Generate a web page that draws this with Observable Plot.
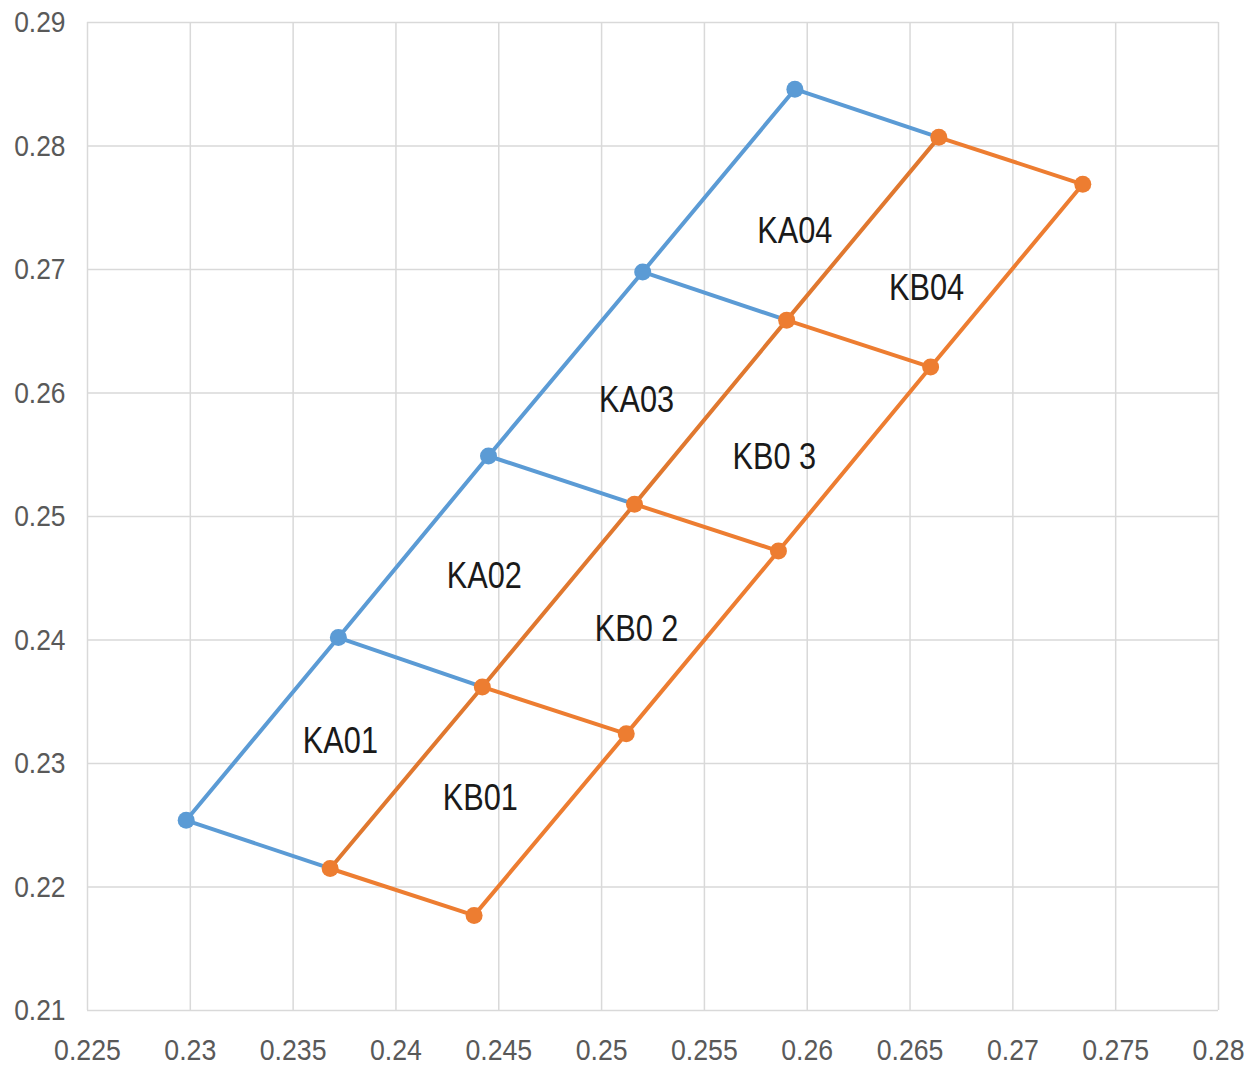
<!DOCTYPE html>
<html>
<head>
<meta charset="utf-8">
<script src="https://cdn.jsdelivr.net/npm/d3@7"></script>
<script src="https://cdn.jsdelivr.net/npm/@observablehq/plot@0.6"></script>
<style>
  html, body { margin: 0; padding: 0; background: #fff; }
  #chart { width: 1255px; height: 1066px; }
</style>
</head>
<body>
<div id="chart"></div>
<script>
// Blue series (KA left edge)
const kaX = [0.2298, 0.2372, 0.2445, 0.2520, 0.2594];
const kaY = [0.2254, 0.2402, 0.2549, 0.2698, 0.2846];
// Orange series, shared edge between KA and KB cells
const kbInnerX = [0.2368, 0.2442, 0.2516, 0.2590, 0.2664];
const kbInnerY = [0.2215, 0.2362, 0.2510, 0.2659, 0.2807];
// Orange series, right edge
const kbOuterX = [0.2438, 0.2512, 0.2586, 0.2660, 0.2734];
const kbOuterY = [0.2177, 0.2324, 0.2472, 0.2621, 0.2769];

// Cell labels
const labelText = ["KA01", "KA02", "KA03", "KA04", "KB01", "KB0 2", "KB0 3", "KB04"];
const labelX = [0.2373, 0.2443, 0.2517, 0.2594, 0.2441, 0.2517, 0.2584, 0.2658];
const labelY = [0.2318, 0.2452, 0.2594, 0.2731, 0.2272, 0.2409, 0.2548, 0.2685];

// Axis ticks
const xTicks = [0.225, 0.23, 0.235, 0.24, 0.245, 0.25, 0.255, 0.26, 0.265, 0.27, 0.275, 0.28];
const xTickLabels = ["0.225", "0.23", "0.235", "0.24", "0.245", "0.25", "0.255", "0.26", "0.265", "0.27", "0.275", "0.28"];
const yTicks = [0.21, 0.22, 0.23, 0.24, 0.25, 0.26, 0.27, 0.28, 0.29];
const yTickLabels = ["0.21", "0.22", "0.23", "0.24", "0.25", "0.26", "0.27", "0.28", "0.29"];

const BLUE = "#5B9BD5";
const ORANGE = "#ED7D31";
const FONT = "'Liberation Sans', Arial, sans-serif";

const pts = (xs, ys) => xs.map((x, i) => ({x, y: ys[i]}));
const kaPts = pts(kaX, kaY);
const innerPts = pts(kbInnerX, kbInnerY);
const outerPts = pts(kbOuterX, kbOuterY);

// cross segments
const blueSegs = kaPts.map((p, i) => ({x1: p.x, y1: p.y, x2: innerPts[i].x, y2: innerPts[i].y}));
const orangeSegs = innerPts.map((p, i) => ({x1: p.x, y1: p.y, x2: outerPts[i].x, y2: outerPts[i].y}));
const labels = labelText.map((t, i) => ({t, x: labelX[i], y: labelY[i]}));

const chart = Plot.plot({
  width: 1255,
  height: 1066,
  marginLeft: 87,
  marginRight: 37,
  marginTop: 22,
  marginBottom: 56,
  style: {fontFamily: FONT, background: "#fff"},
  x: {domain: [0.225, 0.28]},
  y: {domain: [0.21, 0.29]},
  marks: [
    Plot.gridX(xTicks, {stroke: "#d9d9d9", strokeOpacity: 1, strokeWidth: 1.5}),
    Plot.gridY(yTicks, {stroke: "#d9d9d9", strokeOpacity: 1, strokeWidth: 1.5}),
    Plot.axisX(xTicks, {tickSize: 0, tickPadding: 28, fontSize: 30, fill: "#595959",
      tickFormat: (d) => xTickLabels[xTicks.indexOf(d)], label: null, className: "tick-x"}),
    Plot.axisY(yTicks, {tickSize: 0, tickPadding: 22, fontSize: 30, fill: "#595959",
      tickFormat: (d) => yTickLabels[yTicks.indexOf(d)], label: null, className: "tick-y"}),
    // blue
    Plot.line(kaPts, {x: "x", y: "y", stroke: BLUE, strokeWidth: 4}),
    Plot.link(blueSegs, {x1: "x1", y1: "y1", x2: "x2", y2: "y2", stroke: BLUE, strokeWidth: 4}),
    Plot.dot(kaPts, {x: "x", y: "y", r: 8.5, fill: BLUE}),
    // orange
    Plot.line(innerPts, {x: "x", y: "y", stroke: "#E0782F", strokeWidth: 4}),
    Plot.line(outerPts, {x: "x", y: "y", stroke: ORANGE, strokeWidth: 4}),
    Plot.link(orangeSegs, {x1: "x1", y1: "y1", x2: "x2", y2: "y2", stroke: ORANGE, strokeWidth: 4}),
    Plot.dot(innerPts, {x: "x", y: "y", r: 8.5, fill: ORANGE}),
    Plot.dot(outerPts, {x: "x", y: "y", r: 8.5, fill: ORANGE}),
    // labels
    Plot.text(labels, {x: "x", y: "y", text: "t", fontSize: 37, fill: "#1a1a1a", className: "cell-label"})
  ]
});
document.getElementById("chart").appendChild(chart);

// Condense the text horizontally, like the narrow font of the reference
function condense(selector, s) {
  chart.querySelectorAll(selector + " text").forEach(t => {
    const b = t.getBBox();
    const anchor = getComputedStyle(t).textAnchor;
    const ax = anchor === "end" ? b.x + b.width : anchor === "middle" ? b.x + b.width / 2 : b.x;
    const prev = t.getAttribute("transform") || "";
    t.setAttribute("transform", `${prev} translate(${ax},0) scale(${s},1) translate(${-ax},0)`.trim());
  });
}
condense(".tick-x", 0.89);
condense(".tick-y", 0.88);
condense(".cell-label", 0.83);
</script>
</body>
</html>
